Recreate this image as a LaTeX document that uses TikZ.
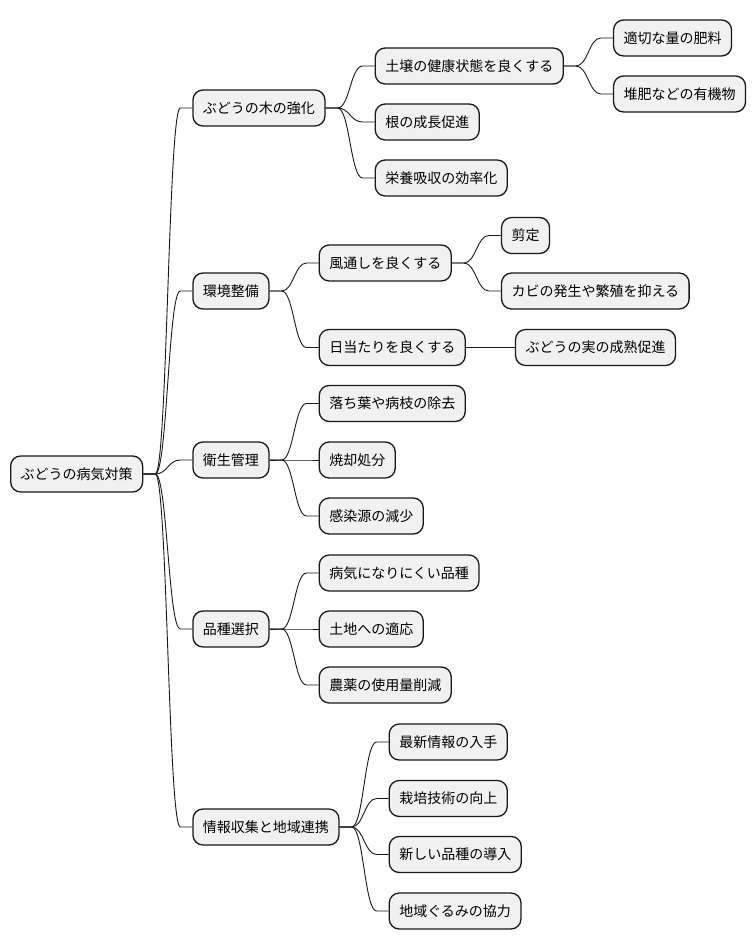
\documentclass[tikz,border=0pt]{standalone}
\usepackage{fontspec}
\setmainfont{Noto Sans CJK JP}
\usepackage{tikz}
\usetikzlibrary{positioning,calc}
\definecolor{edge}{HTML}{181818}
\definecolor{boxbg}{HTML}{F1F1F1}
\tikzset{
  link/.style={draw=edge,line width=0.9pt},
  topic/.style={draw=edge,line width=1.3pt,fill=boxbg,rounded corners=10pt,minimum height=36pt,inner xsep=10pt,font=\fontsize{14pt}{16pt}\selectfont}
}

\begin{document}
\begin{tikzpicture}[x=1pt,y=1pt,node distance=49pt]
  \useasboundingbox (0,0) rectangle (754,-949);
  \node[topic,anchor=west] (root) at (10,-474) {ぶどうの病気対策};

  % first level
  \node[topic,right=of root,yshift=366pt] (vine) {ぶどうの木の強化};
  \node[topic,right=of root,yshift=183pt] (env) {環境整備};
  \node[topic,right=of root,yshift=14pt] (hyg) {衛生管理};
  \node[topic,right=of root,yshift=-155pt] (breed) {品種選択};
  \node[topic,right=of root,yshift=-353pt] (info) {情報収集と地域連携};

  \node[topic,right=of vine,yshift=42pt] (soil) {土壌の健康状態を良くする};
  \node[topic,right=of vine,yshift=-14pt] (grow) {根の成長促進};
  \node[topic,right=of vine,yshift=-70pt] (feed) {栄養吸収の効率化};
  \node[topic,right=of soil,yshift=28pt] (fert) {適切な量の肥料};
  \node[topic,right=of soil,yshift=-28pt] (comp) {堆肥などの有機物};

  \node[topic,right=of env,yshift=28pt] (wind) {風通しを良くする};
  \node[topic,right=of env,yshift=-56.5pt] (sun) {日当たりを良くする};
  \node[topic,right=of wind,yshift=27.5pt] (prune) {剪定};
  \node[topic,right=of wind,yshift=-28pt] (mold) {カビの発生や繁殖を抑える};
  \node[topic,right=of sun] (ripe) {ぶどうの実の成熟促進};

  \node[topic,right=of hyg,yshift=56.5pt] (leaf) {落ち葉や病枝の除去};
  \node[topic,right=of hyg] (burn) {焼却処分};
  \node[topic,right=of hyg,yshift=-56pt] (src) {感染源の減少};

  \node[topic,right=of breed,yshift=56pt] (resist) {病気になりにくい品種};
  \node[topic,right=of breed] (land) {土地への適応};
  \node[topic,right=of breed,yshift=-56pt] (agro) {農薬の使用量削減};

  \node[topic,right=of info,yshift=85pt] (news) {最新情報の入手};
  \node[topic,right=of info,yshift=28.5pt] (tech) {栽培技術の向上};
  \node[topic,right=of info,yshift=-27.5pt] (newv) {新しい品種の導入};
  \node[topic,right=of info,yshift=-84pt] (local) {地域ぐるみの協力};

  % branches
  \foreach \p/\c in {root/vine,root/env,root/hyg,root/breed,root/info,
      vine/soil,vine/grow,vine/feed,soil/fert,soil/comp,
      env/wind,env/sun,wind/prune,wind/mold,sun/ripe,
      hyg/leaf,hyg/burn,hyg/src,breed/resist,breed/land,breed/agro,
      info/news,info/tech,info/newv,info/local}
    \draw[link] (\p.east) -- ++(12,0) coordinate (s)
      .. controls ($(s)+(12,0)$) and ($(\c.west)+(-24,0)$) .. ($(\c.west)+(-12,0)$)
      -- (\c.west);
\end{tikzpicture}
\end{document}
